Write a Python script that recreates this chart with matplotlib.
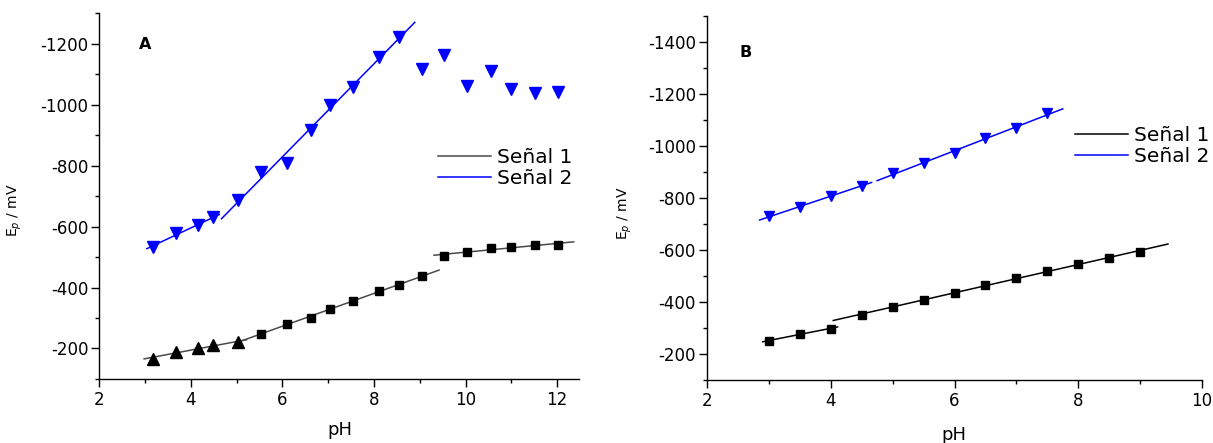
import matplotlib
matplotlib.use("Agg")
import matplotlib.pyplot as plt
import numpy as np
from matplotlib.lines import Line2D
from matplotlib.ticker import MultipleLocator

plt.rcParams['font.family'] = ['DejaVu Sans']
plt.rcParams['axes.unicode_minus'] = False
plt.rcParams['mathtext.fontset'] = 'dejavusans'

# panel A: peak potentials vs pH
ph_a = [3.17, 3.68, 4.16, 4.49, 5.03, 5.54, 6.09, 6.62, 7.03, 7.55,
        8.11, 8.54, 9.05, 9.52, 10.04, 10.55, 11.0, 11.52, 12.02]
signal1_a = [-167, -189, -202, -210, -220, -249, -280, -301, -330, -357,
             -388, -408, -438, -504, -518, -528, -532, -540, -540]
signal2_a = [-534, -578, -604, -630, -688, -778, -809, -915, -997, -1058,
             -1156, -1221, -1118, -1162, -1061, -1110, -1052, -1039, -1042]
# first five points of signal 1 drawn as triangles, rest as squares
n_tri_a = 5

# linear fits: (first index, last index + 1, pH from, pH to)
fits1_a = [(0, 5, 2.98, 5.22), (5, 13, 5.07, 9.42), (13, 19, 9.31, 12.36)]
fits2_a = [(0, 4, 3.04, 4.62), (4, 12, 4.67, 8.89)]

# panel B
ph_b = [3.0, 3.5, 4.0, 4.5, 5.0, 5.5, 6.0, 6.5, 7.0, 7.5, 8.0, 8.5, 9.0]
signal1_b = [-251, -277, -298, -350, -381, -409, -436, -464, -491, -521,
             -546, -571, -593]
signal2_b = [-729, -765, -807, -848, -897, -933, -974, -1029, -1070, -1126]

fits1_b = [(0, 3, 2.90, 4.11), (3, 13, 4.04, 9.45)]
fits2_b = [(0, 4, 2.85, 4.66), (4, 10, 4.75, 7.75)]

BLUE = '#0000ff'
GREY = '#4a4a4a'


def draw_fits(ax, x, y, fits, color):
    x = np.asarray(x)
    y = np.asarray(y)
    for i0, i1, xa, xb in fits:
        m, b = np.polyfit(x[i0:i1], y[i0:i1], 1)
        xs = np.array([xa, xb])
        ax.plot(xs, m * xs + b, color=color, lw=1.1, zorder=2)


def style_axes(ax):
    for side in ('top', 'right'):
        ax.spines[side].set_visible(False)
    for side in ('left', 'bottom'):
        ax.spines[side].set_linewidth(1.0)
    ax.yaxis.set_major_locator(MultipleLocator(200))
    ax.yaxis.set_minor_locator(MultipleLocator(100))
    ax.xaxis.set_major_locator(MultipleLocator(2))
    ax.xaxis.set_minor_locator(MultipleLocator(1))
    ax.tick_params(which='major', direction='out', length=5.5, width=1.0,
                   labelsize=12)
    ax.tick_params(which='minor', direction='out', length=3.1, width=1.0)
    ax.tick_params(axis='x', which='major', pad=3.3)
    ax.tick_params(axis='y', which='major', pad=2.4)


fig = plt.figure(figsize=(12.13, 4.43), dpi=100)
ax_a = fig.add_axes([0.0818, 0.1445, 0.3957, 0.826])
ax_b = fig.add_axes([0.5829, 0.1422, 0.408, 0.8217])

# ---- A ----
draw_fits(ax_a, ph_a, signal1_a, fits1_a, GREY)
draw_fits(ax_a, ph_a, signal2_a, fits2_a, BLUE)
ax_a.plot(ph_a[:n_tri_a], signal1_a[:n_tri_a], '^', color='black',
          ms=8, ls='none', zorder=3)
ax_a.plot(ph_a[n_tri_a:], signal1_a[n_tri_a:], 's', color='black',
          ms=5.8, ls='none', zorder=3)
ax_a.plot(ph_a, signal2_a, 'v', color=BLUE, ms=8.4, ls='none', zorder=3)
ax_a.set_xlim(2, 12.48)
ax_a.set_ylim(-100, -1300)
style_axes(ax_a)
ax_a.set_xlabel('pH', fontsize=13)
ax_a.xaxis.set_label_coords(0.502, -0.115)
ax_a.set_ylabel('E$_p$ / mV', fontsize=10)
ax_a.yaxis.set_label_coords(-0.156, 0.462)
ax_a.text(0.096, 0.915, 'A', transform=ax_a.transAxes, fontsize=11.5,
          fontweight='bold', ha='center', va='center')
handles_a = [Line2D([], [], color=GREY, lw=1.1),
             Line2D([], [], color=BLUE, lw=1.1)]
ax_a.legend(handles_a, ['Señal 1', 'Señal 2'], frameon=False, fontsize=14.5,
            loc='upper left', bbox_to_anchor=(0.706, 0.632),
            borderpad=0, borderaxespad=0, handlelength=2.64,
            handletextpad=0.3, labelspacing=0.12)

# ---- B ----
draw_fits(ax_b, ph_b, signal1_b, fits1_b, 'black')
draw_fits(ax_b, ph_b[:len(signal2_b)], signal2_b, fits2_b, BLUE)
ax_b.plot(ph_b, signal1_b, 's', color='black', ms=5.8, ls='none', zorder=3)
ax_b.plot(ph_b[:len(signal2_b)], signal2_b, 'v', color=BLUE, ms=7.7,
          ls='none', zorder=3)
ax_b.set_xlim(2, 10)
ax_b.set_ylim(-100, -1500)
style_axes(ax_b)
ax_b.set_xlabel('pH', fontsize=13)
ax_b.xaxis.set_label_coords(0.499, -0.126)
ax_b.set_ylabel('E$_p$ / mV', fontsize=10)
ax_b.yaxis.set_label_coords(-0.147, 0.459)
ax_b.text(0.077, 0.901, 'B', transform=ax_b.transAxes, fontsize=11.5,
          fontweight='bold', ha='center', va='center')
handles_b = [Line2D([], [], color='black', lw=1.1),
             Line2D([], [], color=BLUE, lw=1.1)]
leg_b = ax_b.legend(handles_b, ['Señal 1', 'Señal 2'], frameon=False,
                    fontsize=14.5, loc='upper left',
                    bbox_to_anchor=(0.743, 0.699), borderpad=0,
                    borderaxespad=0, handlelength=2.64, handletextpad=0.3,
                    labelspacing=0.12)
leg_b.set_clip_on(False)

fig.savefig('out.png', dpi=100)
